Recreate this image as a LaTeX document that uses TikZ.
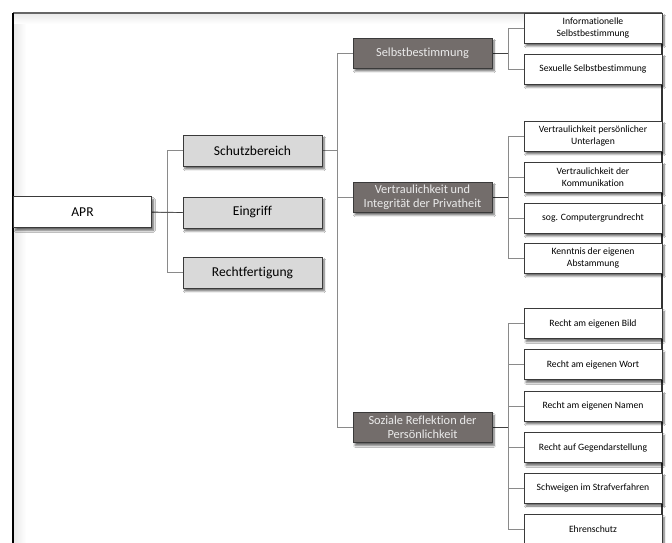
\documentclass[tikz,border=0pt]{standalone}
\usepackage{fontspec}
\setmainfont{Carlito}[Ligatures={NoCommon}]
\usetikzlibrary{shadows,shadows.blur,backgrounds}
\definecolor{lvlone}{HTML}{D9D9D9}
\definecolor{lvltwo}{HTML}{736D6B}
\definecolor{boxline}{HTML}{3A3A3A}
\definecolor{conn}{HTML}{8A8A8A}
\tikzset{
  base/.style={draw=boxline, line width=0.9pt, align=center, inner sep=1pt,
    blur shadow={shadow xshift=2pt, shadow yshift=-3pt, shadow blur steps=6, shadow opacity=60}},
  rootbox/.style={base, fill=white, minimum width=138bp, minimum height=31bp, font=\fontsize{13.6}{15}\selectfont},
  onebox/.style={base, fill=lvlone, minimum width=139bp, minimum height=31bp, font=\fontsize{13.6}{15}\selectfont},
  twobox/.style={base, fill=lvltwo, text=white!92!black, minimum width=139bp, minimum height=30bp, font=\fontsize{12.4}{14}\selectfont},
  threebox/.style={base, fill=white, minimum width=138bp, minimum height=30bp, font=\fontsize{9.7}{12}\selectfont},
  link/.style={draw=conn, line width=0.7pt},
}
\begin{document}
\begin{tikzpicture}[x=1bp,y=-1bp]
\useasboundingbox (0,0) rectangle (672,543);
% nodes
\node[rootbox] (apr) at (82.5,212) {APR};
\node[onebox] (schutz) at (252.5,150.5) {Schutzbereich};
\node[onebox] (eingriff) at (252.5,212.5) {Eingriff};
\node[onebox] (recht) at (252.5,272.5) {Rechtfertigung};

\node[twobox] (selbst) at (422.5,53) {Selbstbestimmung};
\node[twobox] (vertr) at (422.5,197) {Vertraulichkeit und\\Integrität der Privatheit};
\node[twobox] (sozial) at (422.5,427.5) {Soziale Reflektion der\\Persönlichkeit};

\node[threebox] (info) at (593,28) {Informationelle\\Selbstbestimmung};
\node[threebox] (sex) at (593,69) {Sexuelle Selbstbestimmung};
\node[threebox] (unterl) at (593,136) {Vertraulichkeit persönlicher\\Unterlagen};
\node[threebox] (komm) at (593,177) {Vertraulichkeit der\\Kommunikation};
\node[threebox] (comp) at (593,218) {sog. Computergrundrecht};
\node[threebox] (abst) at (593,258) {Kenntnis der eigenen\\Abstammung};
\node[threebox] (bild) at (593,323.5) {Recht am eigenen Bild};
\node[threebox] (wort) at (593,364.5) {Recht am eigenen Wort};
\node[threebox] (namen) at (593,406) {Recht am eigenen Namen};
\node[threebox] (gegen) at (593,447.5) {Recht auf Gegendarstellung};
\node[threebox] (schweig) at (593,488) {Schweigen im Strafverfahren};
\node[threebox] (ehre) at (593,529.5) {Ehrenschutz};

\begin{scope}[on background layer]
\fill[white] (0,0) rectangle (672,543);
% frame with inner shading
\shade[left color=black!9, right color=white] (13,13) rectangle (26,543);
\shade[top color=black!9, bottom color=white] (13,13) rectangle (662,24);
\draw[draw=black!60, line width=1.2pt] (13,13) -- (662,13);
\draw[draw=black, line width=1.2pt] (13,13) -- (13,543);
\draw[draw=black!80, line width=1.2pt] (662,13) -- (662,543);
% connectors
\foreach \c in {schutz,eingriff,recht}
  \draw[link] (apr.east) -- ++(15,0) |- (\c.west);
\draw[link, draw=black!75] (apr.east) -- (eingriff.west);
\foreach \c in {selbst,vertr,sozial}
  \draw[link] (schutz.east) -- ++(15,0) |- (\c.west);
\foreach \c in {info,sex}
  \draw[link] (selbst.east) -- ++(16,0) |- (\c.west);
\foreach \c in {unterl,komm,comp,abst}
  \draw[link] (vertr.east) -- ++(16,0) |- (\c.west);
\foreach \c in {bild,wort,namen,gegen,schweig,ehre}
  \draw[link] (sozial.east) -- ++(16,0) |- (\c.west);
\draw[link, draw=black!75] (selbst.east) -- ++(16,0);
\draw[link, draw=black!75] (vertr.east) -- ++(16,0);
\draw[link, draw=black!75] (sozial.east) -- ++(16,0);
\end{scope}
\end{tikzpicture}
\end{document}
